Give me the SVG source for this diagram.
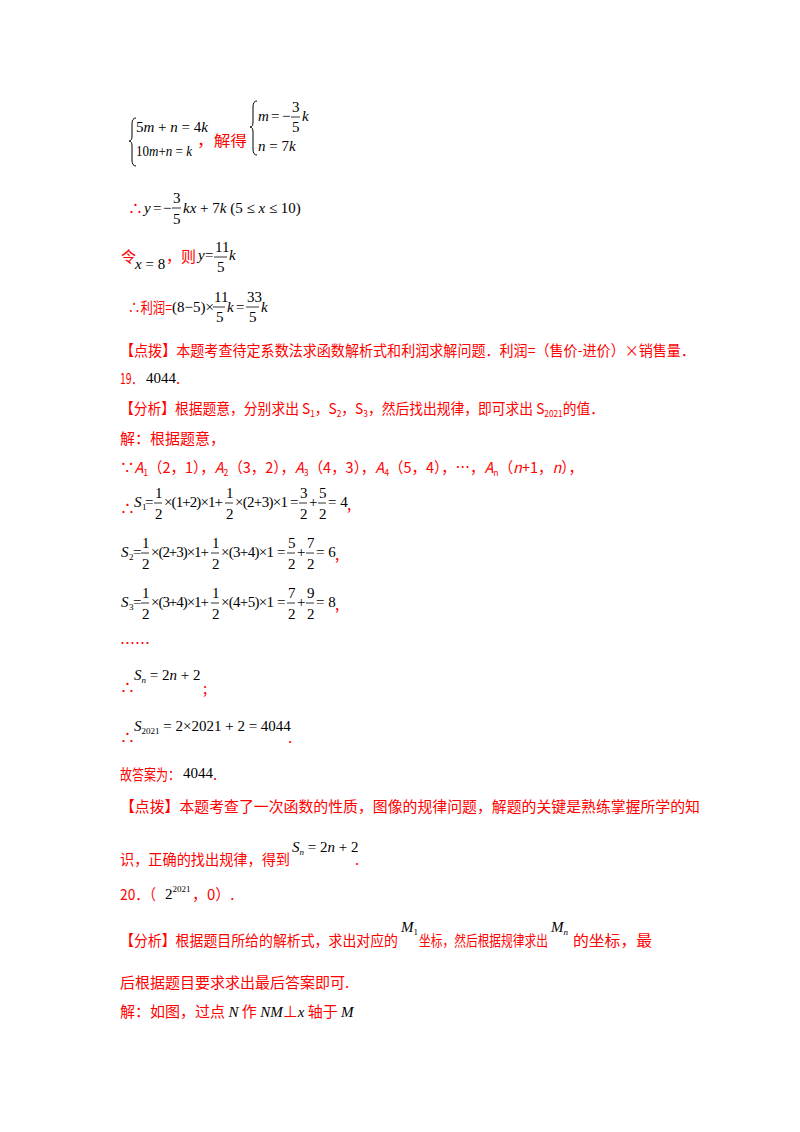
<svg xmlns="http://www.w3.org/2000/svg" width="800" height="1132" viewBox="0 0 800 1132">
<style>
.r{fill:#f00;font-family:"Noto Sans CJK SC","Liberation Serif",sans-serif;font-size:15px}
.m{fill:#000;font-family:"Liberation Serif",serif;font-size:15px}
.i{font-style:italic}
.s{font-size:9px}
.b{stroke:#000;stroke-width:0.8}
.br{fill:none;stroke:#000;stroke-width:1}
</style>
<rect width="800" height="1132" fill="#fff"/>
<g id="system">
<path class="br" d="M136,118 Q132,118 132,124 L132,136 Q132,141 129,141 Q132,141 132,146 L132,160 Q132,166 136,166"/>
<text class="m" x="136" y="132">5<tspan class="i">m</tspan> + <tspan class="i">n</tspan> = 4<tspan class="i">k</tspan></text>
<text class="m" x="136" y="156" textLength="56" lengthAdjust="spacingAndGlyphs">10<tspan class="i">m</tspan>+<tspan class="i">n</tspan> = <tspan class="i">k</tspan></text>
<text class="r" x="197" y="146" textLength="50" lengthAdjust="spacingAndGlyphs">，解得</text>
<path class="br" d="M257,101 Q253,101 253,107 L253,122 Q253,127 250,127 Q253,127 253,132 L253,149 Q253,155 257,155"/>
<text class="m" x="258" y="121"><tspan class="i">m</tspan></text>
<text class="m" x="271" y="121">=</text>
<text class="m" x="282" y="121">−</text>
<text class="m" x="292" y="112">3</text><line class="b" x1="291" y1="117" x2="300" y2="117"/><text class="m" x="292" y="132">5</text>
<text class="m i" x="302" y="121">k</text>
<text class="m" x="258" y="151"><tspan class="i">n</tspan> = 7<tspan class="i">k</tspan></text>
</g>
<g id="line-y">
<text class="r" x="128" y="214">∴</text>
<text class="m i" x="144" y="213">y</text>
<text class="m" x="153" y="213">=</text>
<text class="m" x="163" y="213">−</text>
<text class="m" x="173" y="203">3</text><line class="b" x1="172" y1="208" x2="181" y2="208"/><text class="m" x="173" y="224">5</text>
<text class="m" x="183" y="213"><tspan class="i">kx</tspan> + 7<tspan class="i">k</tspan> (5 ≤ <tspan class="i">x</tspan> ≤ 10)</text>
</g>
<g id="line-x8">
<text class="r" x="121" y="262">令</text>
<text class="m" x="135" y="269"><tspan class="i">x</tspan> = 8</text>
<text class="r" x="166" y="262" textLength="30" lengthAdjust="spacingAndGlyphs">，则</text>
<text class="m i" x="198" y="260">y</text>
<text class="m" x="205" y="260">=</text>
<text class="m" x="215" y="252">11</text><line class="b" x1="214" y1="257" x2="227" y2="257"/><text class="m" x="217" y="272">5</text>
<text class="m i" x="229" y="260">k</text>
</g>
<g id="line-profit">
<text class="r" x="128" y="313" textLength="44" lengthAdjust="spacingAndGlyphs">∴利润=</text>
<text class="m" x="172" y="312">(8−5)×</text>
<text class="m" x="214" y="302">11</text><line class="b" x1="213" y1="307" x2="225" y2="307"/><text class="m" x="216" y="322">5</text>
<text class="m i" x="227" y="312">k</text>
<text class="m" x="236" y="312">=</text>
<text class="m" x="247" y="302">33</text><line class="b" x1="246" y1="307" x2="259" y2="307"/><text class="m" x="249" y="322">5</text>
<text class="m i" x="261" y="312">k</text>
</g>
<text class="r" x="120" y="356" textLength="575" lengthAdjust="spacingAndGlyphs">【点拨】本题考查待定系数法求函数解析式和利润求解问题．利润=（售价-进价）×销售量．</text>
<text class="r" x="120" y="384" textLength="22" lengthAdjust="spacingAndGlyphs">19．</text><text class="m" x="146" y="383">4044</text><text class="r" x="176" y="384">.</text>
<text class="r" x="120" y="414" textLength="484" lengthAdjust="spacingAndGlyphs">【分析】根据题意，分别求出 S<tspan class="s" dy="3">1</tspan><tspan dy="-3">，S</tspan><tspan class="s" dy="3">2</tspan><tspan dy="-3">，S</tspan><tspan class="s" dy="3">3</tspan><tspan dy="-3">，然后找出规律，即可求出 S</tspan><tspan class="s" dy="3">2021</tspan><tspan dy="-3">的值．</tspan></text>
<text class="r" x="120" y="444">解：根据题意，</text>
<text class="r" x="120" y="473" textLength="463" lengthAdjust="spacingAndGlyphs">∵<tspan class="i">A</tspan><tspan class="s" dy="3">1</tspan><tspan dy="-3">（2，1），</tspan><tspan class="i">A</tspan><tspan class="s" dy="3">2</tspan><tspan dy="-3">（3，2），</tspan><tspan class="i">A</tspan><tspan class="s" dy="3">3</tspan><tspan dy="-3">（4，3），</tspan><tspan class="i">A</tspan><tspan class="s" dy="3">4</tspan><tspan dy="-3">（5，4），…，</tspan><tspan class="i">A</tspan><tspan class="s" dy="3">n</tspan><tspan dy="-3">（</tspan><tspan class="i">n</tspan>+1，<tspan class="i">n</tspan>），</text>
<g id="S1">
<text class="r" x="120" y="514">∴</text>
<text class="m i" x="134" y="507">S</text><text class="m s" x="142" y="510">1</text>
<text class="m" x="145" y="507">=</text>
<text class="m" x="155" y="498">1</text><line class="b" x1="154" y1="503" x2="162" y2="503"/><text class="m" x="155" y="519">2</text>
<text class="m" x="164" y="507" textLength="59" lengthAdjust="spacing">×(1+2)×1+</text>
<text class="m" x="226" y="498">1</text><line class="b" x1="225" y1="503" x2="233" y2="503"/><text class="m" x="226" y="519">2</text>
<text class="m" x="235" y="507" textLength="53" lengthAdjust="spacing">×(2+3)×1</text>
<text class="m" x="290" y="507">=</text>
<text class="m" x="300" y="498">3</text><line class="b" x1="299" y1="503" x2="307" y2="503"/><text class="m" x="300" y="519">2</text>
<text class="m" x="309" y="507">+</text>
<text class="m" x="319" y="498">5</text><line class="b" x1="318" y1="503" x2="326" y2="503"/><text class="m" x="319" y="519">2</text>
<text class="m" x="328" y="507">= 4</text><text class="r" x="347" y="510">,</text>
</g>
<g id="S2">
<text class="m i" x="121" y="557">S</text><text class="m s" x="129" y="560">2</text>
<text class="m" x="133" y="557">=</text>
<text class="m" x="142" y="548">1</text><line class="b" x1="141" y1="553" x2="149" y2="553"/><text class="m" x="142" y="569">2</text>
<text class="m" x="151" y="557" textLength="58" lengthAdjust="spacing">×(2+3)×1+</text>
<text class="m" x="212" y="548">1</text><line class="b" x1="211" y1="553" x2="219" y2="553"/><text class="m" x="212" y="569">2</text>
<text class="m" x="221" y="557" textLength="53" lengthAdjust="spacing">×(3+4)×1</text>
<text class="m" x="277" y="557">=</text>
<text class="m" x="288" y="548">5</text><line class="b" x1="287" y1="553" x2="295" y2="553"/><text class="m" x="288" y="569">2</text>
<text class="m" x="297" y="557">+</text>
<text class="m" x="307" y="548">7</text><line class="b" x1="306" y1="553" x2="314" y2="553"/><text class="m" x="307" y="569">2</text>
<text class="m" x="316" y="557">= 6</text><text class="r" x="335" y="560">,</text>
</g>
<g id="S3">
<text class="m i" x="121" y="607">S</text><text class="m s" x="129" y="610">3</text>
<text class="m" x="133" y="607">=</text>
<text class="m" x="142" y="598">1</text><line class="b" x1="141" y1="603" x2="149" y2="603"/><text class="m" x="142" y="619">2</text>
<text class="m" x="151" y="607" textLength="58" lengthAdjust="spacing">×(3+4)×1+</text>
<text class="m" x="212" y="598">1</text><line class="b" x1="211" y1="603" x2="219" y2="603"/><text class="m" x="212" y="619">2</text>
<text class="m" x="221" y="607" textLength="53" lengthAdjust="spacing">×(4+5)×1</text>
<text class="m" x="277" y="607">=</text>
<text class="m" x="288" y="598">7</text><line class="b" x1="287" y1="603" x2="295" y2="603"/><text class="m" x="288" y="619">2</text>
<text class="m" x="297" y="607">+</text>
<text class="m" x="307" y="598">9</text><line class="b" x1="306" y1="603" x2="314" y2="603"/><text class="m" x="307" y="619">2</text>
<text class="m" x="316" y="607">= 8</text><text class="r" x="335" y="610">,</text>
</g>
<text class="r" x="120" y="649" font-size="10">……</text>
<text class="r" x="120" y="693">∴</text>
<text class="m" x="134" y="680"><tspan class="i">S</tspan><tspan class="s i" dy="3">n</tspan><tspan dy="-3"> = 2</tspan><tspan class="i">n</tspan> + 2</text>
<text class="r" x="203" y="694">;</text>
<text class="r" x="120" y="743">∴</text>
<text class="m" x="134" y="731"><tspan class="i">S</tspan><tspan class="s" dy="3">2021</tspan><tspan dy="-3"> = 2×2021 + 2 = 4044</tspan></text>
<text class="r" x="288" y="743">.</text>
<text class="r" x="120" y="780" textLength="60" lengthAdjust="spacingAndGlyphs">故答案为：</text><text class="m" x="183" y="778">4044</text><text class="r" x="213" y="780">.</text>
<text class="r" x="120" y="812" textLength="580" lengthAdjust="spacingAndGlyphs">【点拨】本题考查了一次函数的性质，图像的规律问题，解题的关键是熟练掌握所学的知</text>
<text class="r" x="120" y="865" textLength="170" lengthAdjust="spacingAndGlyphs">识，正确的找出规律，得到</text>
<text class="m" x="292" y="852"><tspan class="i">S</tspan><tspan class="s i" dy="3">n</tspan><tspan dy="-3"> = 2</tspan><tspan class="i">n</tspan> + 2</text>
<text class="r" x="355" y="865">.</text>
<text class="r" x="120" y="900" textLength="36" lengthAdjust="spacingAndGlyphs">20．（</text><text class="m" x="165" y="899">2<tspan class="s" dy="-7">2021</tspan></text><text class="r" x="192" y="900">，0）.</text>
<text class="r" x="120" y="946" textLength="278" lengthAdjust="spacingAndGlyphs">【分析】根据题目所给的解析式，求出对应的</text>
<text class="m i" x="401" y="932">M<tspan class="s" font-style="normal" dy="3">1</tspan></text>
<text class="r" x="419" y="946" textLength="129" lengthAdjust="spacingAndGlyphs">坐标，然后根据规律求出</text>
<text class="m i" x="551" y="932">M<tspan class="s" dy="3">n</tspan></text>
<text class="r" x="573" y="946" textLength="79" lengthAdjust="spacingAndGlyphs">的坐标，最</text>
<text class="r" x="120" y="988">后根据题目要求求出最后答案即可.</text>
<text class="r" x="120" y="1017">解：如图，过点 <tspan class="m i" fill="#f00">N</tspan> 作 <tspan class="m i" fill="#f00">NM</tspan>⊥<tspan class="m i" fill="#f00">x</tspan> 轴于 <tspan class="m i" fill="#f00">M</tspan></text>
</svg>
